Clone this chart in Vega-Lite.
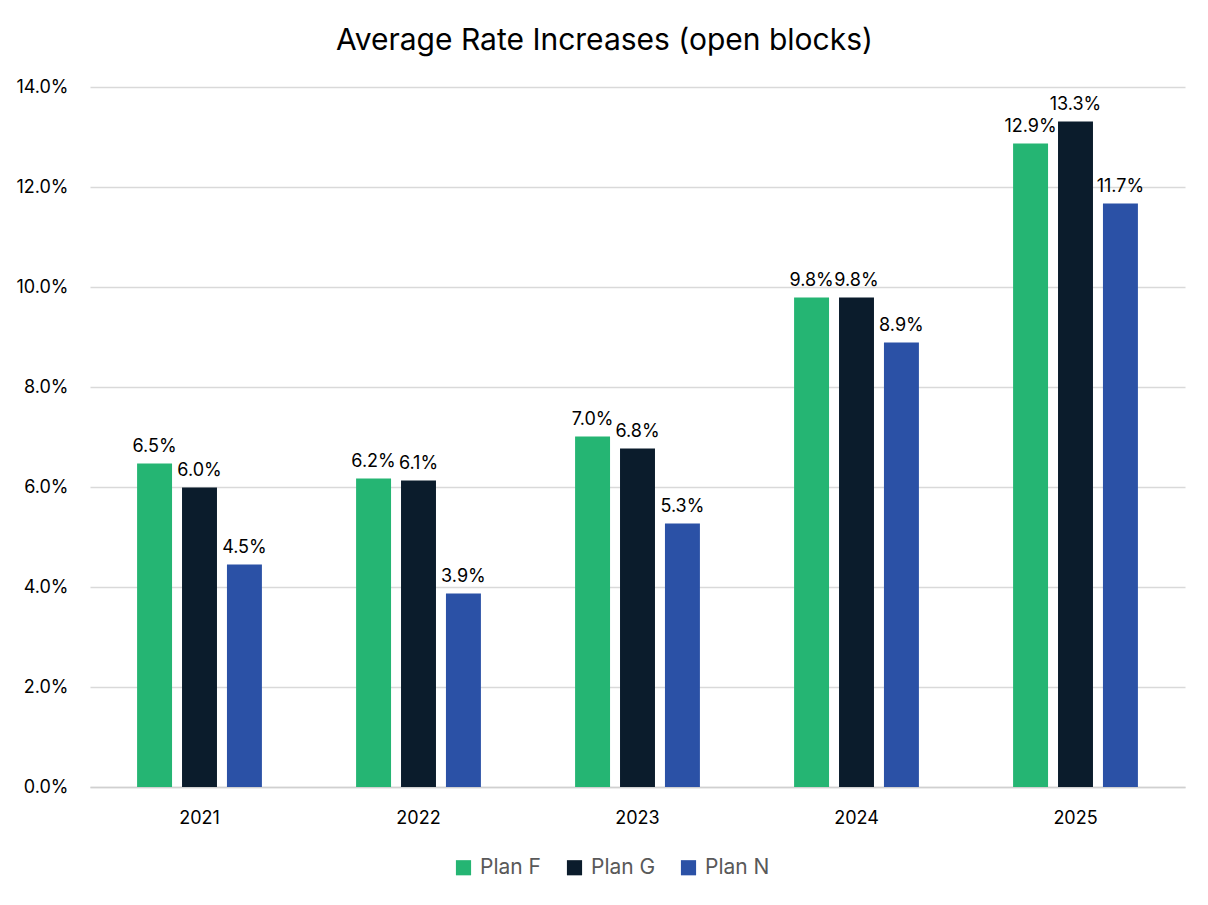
{
  "$schema": "https://vega.github.io/schema/vega-lite/v6.json",
  "width": 1095,
  "height": 700,
  "autosize": {"type": "none"},
  "padding": {"left": 90, "top": 87, "right": 23, "bottom": 118},
  "background": "white",
  "config": {
    "font": "Inter",
    "view": {"stroke": null}
  },
  "title": {
    "text": "Average Rate Increases (open blocks)",
    "fontSize": 30,
    "fontWeight": "normal",
    "color": "#000000",
    "anchor": "middle",
    "offset": 22,
    "dx": -33
  },
  "data": {
    "values": [
      {"year": "2021", "plan": "Plan F", "rate": 0.0647},
      {"year": "2021", "plan": "Plan G", "rate": 0.0599},
      {"year": "2021", "plan": "Plan N", "rate": 0.0445},
      {"year": "2022", "plan": "Plan F", "rate": 0.0617},
      {"year": "2022", "plan": "Plan G", "rate": 0.0613},
      {"year": "2022", "plan": "Plan N", "rate": 0.0387},
      {"year": "2023", "plan": "Plan F", "rate": 0.0701},
      {"year": "2023", "plan": "Plan G", "rate": 0.0677},
      {"year": "2023", "plan": "Plan N", "rate": 0.0527},
      {"year": "2024", "plan": "Plan F", "rate": 0.0979},
      {"year": "2024", "plan": "Plan G", "rate": 0.0979},
      {"year": "2024", "plan": "Plan N", "rate": 0.0889},
      {"year": "2025", "plan": "Plan F", "rate": 0.1287},
      {"year": "2025", "plan": "Plan G", "rate": 0.1331},
      {"year": "2025", "plan": "Plan N", "rate": 0.1167}
    ]
  },
  "encoding": {
    "x": {
      "field": "year",
      "type": "nominal",
      "scale": {"paddingInner": 0.43, "paddingOuter": 0.215},
      "axis": {
        "title": null,
        "labelAngle": 0,
        "labelFontSize": 18,
        "labelColor": "#000000",
        "labelPadding": 22,
        "ticks": false,
        "domainColor": "#d0d0d0",
        "domainWidth": 1.5
      }
    },
    "xOffset": {
      "field": "plan",
      "type": "nominal",
      "scale": {"paddingInner": 0.222, "paddingOuter": 0}
    },
    "y": {
      "field": "rate",
      "type": "quantitative",
      "scale": {"domain": [0, 0.14], "nice": false},
      "axis": {
        "title": null,
        "format": ".1%",
        "values": [0, 0.02, 0.04, 0.06, 0.08, 0.1, 0.12, 0.14],
        "labelFontSize": 18,
        "labelColor": "#000000",
        "labelPadding": 22,
        "ticks": false,
        "domain": false,
        "gridColor": "#d9d9d9",
        "gridWidth": 1.5
      }
    }
  },
  "layer": [
    {
      "mark": {"type": "bar"},
      "encoding": {
        "color": {
          "field": "plan",
          "type": "nominal",
          "scale": {
            "domain": ["Plan F", "Plan G", "Plan N"],
            "range": ["#25B573", "#0B1C2C", "#2B51A6"]
          },
          "legend": {
            "title": null,
            "orient": "none",
            "legendX": 363,
            "legendY": 770,
            "direction": "horizontal",
            "symbolType": "square",
            "symbolSize": 230,
            "symbolStrokeWidth": 0,
            "labelFontSize": 21,
            "labelColor": "#595959",
            "labelOffset": 6,
            "columnPadding": 22
          }
        }
      }
    },
    {
      "mark": {"type": "text", "baseline": "bottom", "dy": -8, "fontSize": 18, "color": "#000000"},
      "encoding": {
        "text": {"field": "rate", "type": "quantitative", "format": ".1%"}
      }
    }
  ]
}
